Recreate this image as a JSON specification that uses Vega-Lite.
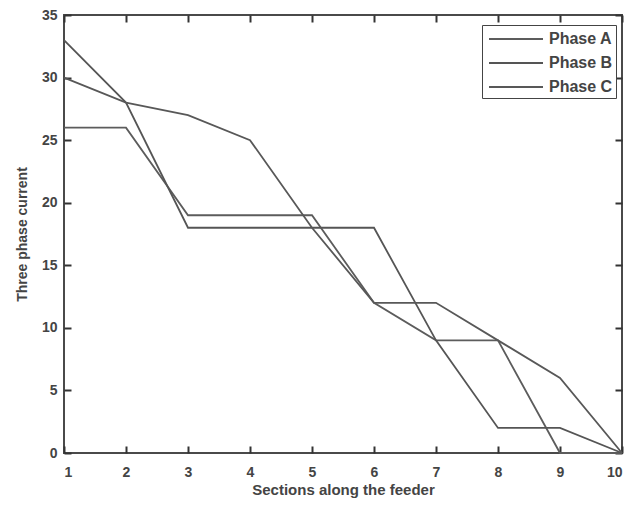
{
  "$schema": "https://vega.github.io/schema/vega-lite/v6.json",
  "width": 558,
  "height": 438,
  "autosize": {"type": "none"},
  "padding": {"left": 64, "top": 15, "right": 12, "bottom": 53},
  "background": "white",
  "data": {"values": [
    {"section": 1, "current": 26, "phase": "Phase A"},
    {"section": 2, "current": 26, "phase": "Phase A"},
    {"section": 3, "current": 19, "phase": "Phase A"},
    {"section": 4, "current": 19, "phase": "Phase A"},
    {"section": 5, "current": 19, "phase": "Phase A"},
    {"section": 6, "current": 12, "phase": "Phase A"},
    {"section": 7, "current": 9, "phase": "Phase A"},
    {"section": 8, "current": 9, "phase": "Phase A"},
    {"section": 9, "current": 0, "phase": "Phase A"},
    {"section": 10, "current": 0, "phase": "Phase A"},
    {"section": 1, "current": 33, "phase": "Phase B"},
    {"section": 2, "current": 28, "phase": "Phase B"},
    {"section": 3, "current": 18, "phase": "Phase B"},
    {"section": 4, "current": 18, "phase": "Phase B"},
    {"section": 5, "current": 18, "phase": "Phase B"},
    {"section": 6, "current": 18, "phase": "Phase B"},
    {"section": 7, "current": 9, "phase": "Phase B"},
    {"section": 8, "current": 2, "phase": "Phase B"},
    {"section": 9, "current": 2, "phase": "Phase B"},
    {"section": 10, "current": 0, "phase": "Phase B"},
    {"section": 1, "current": 30, "phase": "Phase C"},
    {"section": 2, "current": 28, "phase": "Phase C"},
    {"section": 3, "current": 27, "phase": "Phase C"},
    {"section": 4, "current": 25, "phase": "Phase C"},
    {"section": 5, "current": 18, "phase": "Phase C"},
    {"section": 6, "current": 12, "phase": "Phase C"},
    {"section": 7, "current": 12, "phase": "Phase C"},
    {"section": 8, "current": 9, "phase": "Phase C"},
    {"section": 9, "current": 6, "phase": "Phase C"},
    {"section": 10, "current": 0, "phase": "Phase C"}
  ]},
  "layer": [
    {
      "mark": {"type": "line", "strokeWidth": 1.8},
      "encoding": {
        "x": {"field": "section", "type": "quantitative",
              "scale": {"domain": [1, 10], "nice": false, "zero": false},
              "axis": {"orient": "bottom", "values": [1,2,3,4,5,6,7,8,9,10], "title": "Sections along the feeder", "titlePadding": 3, "titleFontSize": 15, "labelPadding": 12}},
        "y": {"field": "current", "type": "quantitative",
              "scale": {"domain": [0, 35], "nice": false},
              "axis": {"orient": "left", "values": [0,5,10,15,20,25,30,35], "title": "Three phase current", "titlePadding": 12, "titleFontSize": 14, "labelPadding": 7}},
        "color": {"field": "phase", "type": "nominal",
                  "scale": {"domain": ["Phase A", "Phase B", "Phase C"], "range": ["#5c5c5c", "#555555", "#585858"]},
                  "legend": {"orient": "none", "legendX": 418, "legendY": 10, "title": null,
                             "symbolType": "M-0.7,0H4.7", "symbolSize": 400, "symbolStrokeWidth": 1.8,
                             "labelFont": "Liberation Sans", "labelFontSize": 16, "labelFontWeight": "bold", "labelColor": "#444",
                             "strokeColor": "#444", "fillColor": "white", "padding": 3, "rowPadding": 5,
                             "labelOffset": 42}}
      }
    },
    {
      "mark": {"type": "line", "opacity": 0},
      "encoding": {
        "x": {"field": "section", "type": "quantitative",
              "axis": {"orient": "top", "values": [1,2,3,4,5,6,7,8,9,10], "labels": false, "title": null}},
        "y": {"field": "current", "type": "quantitative",
              "axis": {"orient": "right", "values": [0,5,10,15,20,25,30,35], "labels": false, "title": null}}
      }
    }
  ],
  "resolve": {"axis": {"x": "independent", "y": "independent"}},
  "config": {
    "view": {"stroke": "#4a4a4a", "strokeWidth": 2},
    "axis": {
      "grid": false, "zindex": 1,
      "domain": false, "offset": -7, "ticks": true,
      "tickColor": "#333333", "tickSize": 7, "tickWidth": 2, "tickOpacity": 1,
      "labelColor": "#444", "labelFont": "Liberation Sans", "labelFontSize": 14, "labelFontWeight": "bold",
      "titleColor": "#444", "titleFont": "Liberation Sans", "titleFontWeight": "bold"
    }
  }
}
